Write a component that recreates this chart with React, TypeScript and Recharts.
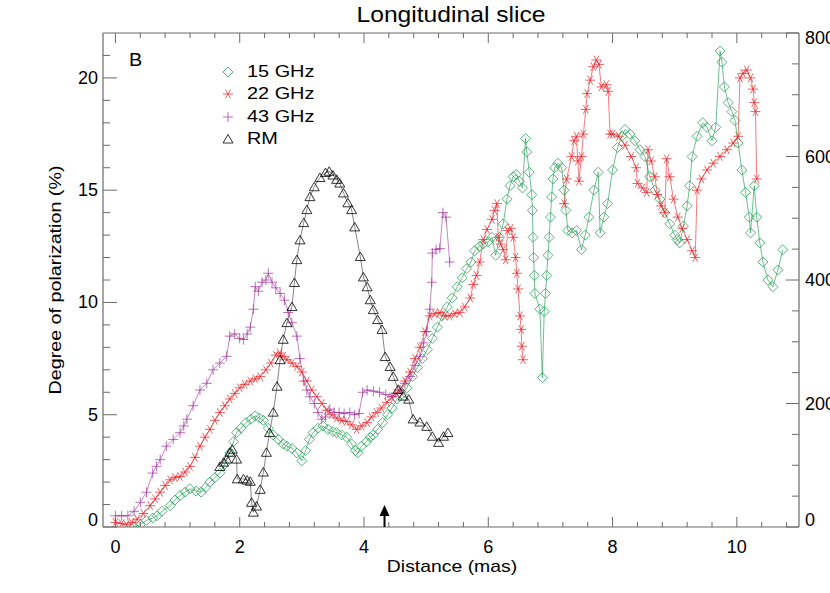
import React from "react";
import { LineChart, Line, XAxis, YAxis, ReferenceDot } from "recharts";

const FONT = '"Liberation Sans", Arial, Helvetica, sans-serif';

const GREEN = "#1f9e52";
const RED = "#ec2127";
const PURPLE = "#a1359f";
const BLACK = "#000000";
const AXIS = "#6a6a6a";

// 15 GHz (degree of polarization, %)
const dist15 = [
  0.3, 0.4, 0.5, 0.6, 0.67, 0.75, 0.88, 0.96, 1.04, 1.12, 1.2, 1.3, 1.38, 1.45, 1.52, 1.6, 1.68, 1.76, 1.84, 1.9,
  1.95, 2.02, 2.1, 2.18, 2.25, 2.32, 2.38, 2.46, 2.54, 2.62, 2.7, 2.76, 2.84, 2.92, 3.0, 3.06, 3.12, 3.18, 3.26, 3.34,
  3.42, 3.5, 3.56, 3.64, 3.72, 3.8, 3.86, 3.9, 3.96, 4.04, 4.1, 4.15, 4.22, 4.3, 4.38, 4.45, 4.53, 4.61, 4.69, 4.78,
  4.86, 4.94, 5.02, 5.1, 5.18, 5.26, 5.34, 5.42, 5.5, 5.58, 5.65, 5.72, 5.78, 5.86, 5.92, 6.0, 6.06, 6.12, 6.18, 6.24,
  6.3, 6.35, 6.4, 6.45, 6.5, 6.55, 6.6, 6.62, 6.66, 6.7, 6.71, 6.72, 6.73, 6.74, 6.75, 6.83, 6.87, 6.9, 6.92, 6.94,
  6.96, 6.98, 7.0, 7.02, 7.04, 7.07, 7.12, 7.18, 7.22, 7.25, 7.28, 7.35, 7.42, 7.5, 7.56, 7.62, 7.7, 7.77, 7.8, 7.86,
  7.92, 8.0, 8.08, 8.15, 8.2, 8.28, 8.36, 8.44, 8.52, 8.6, 8.68, 8.76, 8.84, 8.92, 9.0, 9.04, 9.08, 9.14, 9.2, 9.24,
  9.28, 9.36, 9.45, 9.52, 9.6, 9.66, 9.73, 9.76, 9.8, 9.86, 9.92, 9.97, 10.02, 10.08, 10.14, 10.2, 10.22, 10.28, 10.32, 10.37,
  10.42, 10.5, 10.58, 10.66, 10.74,
];
const pol15 = [
  0.0, 0.1, 0.3, 0.4, 0.5, 0.7, 0.95, 1.2, 1.4, 1.55, 1.7, 1.6, 1.55, 1.75, 2.0, 2.2, 2.4, 2.8, 3.3, 3.8,
  4.2, 4.4, 4.65, 4.8, 4.95, 4.85, 4.75, 4.4, 4.1, 3.9, 3.7, 3.6, 3.5, 3.3, 2.95, 3.4, 3.9, 4.2, 4.4, 4.5,
  4.35, 4.25, 4.2, 4.1, 4.0, 3.7, 3.4, 3.3, 3.6, 3.8, 4.0, 4.1, 4.35, 4.65, 5.0, 5.3, 5.7, 5.9, 6.2, 6.7,
  7.1, 7.5, 7.9, 8.4, 8.9, 9.4, 9.8, 10.2, 10.7, 11.1, 11.5, 11.8, 12.3, 12.5, 12.6, 12.7, 12.9, 12.1, 12.9, 13.5,
  14.6, 15.2, 15.6, 15.7, 15.4, 15.1, 17.3, 16.7, 15.8, 14.8, 14.1, 12.9, 12.0, 11.2, 10.4, 9.7, 6.65, 9.6, 10.4, 11.2,
  12.1, 12.9, 13.8, 14.7, 15.5, 16.0, 16.2, 16.0, 15.0, 14.1, 13.2, 13.1, 13.2, 12.35, 13.0, 13.8, 15.0, 15.8, 13.1, 13.8,
  14.4, 15.9, 16.9, 17.4, 17.7, 17.5, 17.2, 16.8, 16.5, 15.6, 15.0, 14.6, 14.0, 13.5, 13.0, 12.8, 12.65, 13.4, 14.3, 15.2,
  16.5, 17.4, 18.0, 17.8, 17.2, 17.8, 21.2, 20.7, 19.6, 18.9, 18.5, 18.1, 17.1, 15.9, 14.9, 13.8, 13.1, 15.2, 13.8, 12.65,
  11.8, 11.0, 10.7, 11.45, 12.35,
];

// 22 GHz (null marks the gap in the slice)
const dist22 = [
  0.0, 0.1, 0.18, 0.26, 0.35, 0.45, 0.56, 0.64, 0.72, 0.8, 0.88, 0.96, 1.04, 1.12, 1.2, 1.28, 1.36, 1.44, 1.52, 1.6,
  1.68, 1.76, 1.84, 1.92, 2.0, 2.08, 2.17, 2.25, 2.33, 2.42, 2.5, 2.58, 2.64, 2.7, 2.76, 2.84, 2.92, 3.0, 3.08, 3.16,
  3.24, 3.32, 3.4, 3.48, 3.56, 3.64, 3.72, 3.8, 3.88, 3.96, 4.05, 4.12, 4.2, 4.28, 4.37, 4.45, 4.52, 4.58, 4.66, 4.74,
  4.82, 4.9, 4.98, 5.06, 5.14, 5.22, 5.3, 5.38, 5.46, 5.54, 5.62, 5.71, 5.76, 5.81, 5.86, 5.92, 5.98, 6.06, 6.1, 6.14,
  6.16, 6.2, 6.24, 6.28, 6.31, 6.36, 6.4, 6.44, 6.46, 6.48, 6.51, 6.53, 6.54, 6.56, 6.9, 7.22, 7.26, 7.34, 7.38, 7.42,
  7.44, 7.46, 7.5, 7.53, 7.57, 7.59, 7.64, 7.69, 7.74, 7.78, 7.82, 7.9, 7.93, 7.96, 8.0, 8.1, 8.2, 8.3, 8.38, 8.4,
  8.48, 8.55, 8.57, 8.62, 8.68, 8.72, 8.78, 8.84, 8.87, 8.92, 8.98, 9.05, 9.12, 9.2, 9.28, 9.33, 9.36, 9.43, 9.52, 9.62,
  9.73, 9.84, 9.94, 10.02, 10.05, 10.1, 10.16, 10.22, 10.26, 10.28, 10.3, 10.32,
];
const pol22 = [
  0.2, 0.15, 0.1, 0.2, 0.35, 0.6, 0.95, 1.25, 1.55, 1.85, 2.1, 2.2, 2.25, 2.45, 2.7, 3.1, 3.6, 4.0, 4.35, 4.75,
  5.1, 5.4, 5.7, 5.95, 6.2, 6.35, 6.5, 6.6, 6.7, 7.0, 7.3, 7.65, 7.75, 7.6, 7.45, 7.3, 7.15, 6.9, 6.5, 6.1,
  5.8, 5.5, 5.2, 5.0, 4.85, 4.75, 4.7, 4.55, 4.35, 4.5, 4.65, 4.9, 5.1, 5.3, 5.55, 5.8, 5.95, 6.1, 6.5, 6.9,
  7.5, 8.0, 8.7, 9.4, 9.5, 9.55, 9.4, 9.4, 9.5, 9.55, 9.8, 10.2, 10.8, 11.2, 11.8, 12.8, 13.25, 13.7, 14.1, 14.4,
  12.9, 12.6, 12.35, 11.9, 13.2, 13.3, 12.9, 12.0, 11.3, 10.6, 9.4, 8.8, 8.05, 7.45, null, 14.4, 15.5, 16.5, 17.2, 17.4,
  16.3, 15.4, 16.5, 17.5, 18.6, 19.3, 19.9, 20.5, 20.8, 20.6, 19.6, 19.7, 19.4, 17.5, 17.5, 17.4, 17.0, 16.5, 16.0, 15.3,
  15.1, 14.9, 16.8, 16.3, 15.6, 14.8, 14.3, 14.0, 16.4, 15.6, 14.6, 13.8, 13.3, 12.8, 12.3, 12.0, 15.0, 15.5, 15.9, 16.2,
  16.5, 16.8, 17.1, 17.4, 20.0, 20.2, 20.35, 20.0, 19.5, 18.9, 18.5, 15.5,
];

// 43 GHz
const dist43 = [
  0.0, 0.1, 0.2, 0.3, 0.4, 0.5, 0.6, 0.66, 0.72, 0.82, 0.93, 1.04, 1.1, 1.15, 1.25, 1.36, 1.47, 1.57, 1.68, 1.79,
  1.84, 1.92, 2.0, 2.06, 2.12, 2.17, 2.22, 2.25, 2.3, 2.36, 2.42, 2.46, 2.52, 2.58, 2.65, 2.72, 2.78, 2.84, 2.92, 2.97,
  3.03, 3.08, 3.13, 3.2, 3.26, 3.32, 3.38, 3.45, 3.52, 3.6, 3.68, 3.77, 3.85, 3.92, 3.98, 4.05, 4.15, 4.25, 4.35, 4.45,
  4.58, 4.66, 4.74, 4.82, 4.9, 4.96, 5.01, 5.06, 5.09, 5.1, 5.16, 5.22, 5.27, 5.32, 5.38,
];
const pol43 = [
  0.5, 0.5, 0.5, 0.7, 1.1, 1.55, 2.4, 2.7, 3.0, 3.6, 3.9, 4.2, 4.5, 4.8, 5.4, 6.1, 6.4, 7.0, 7.3, 7.6,
  8.5, 8.6, 8.4, 8.35, 8.6, 8.9, 9.7, 10.7, 10.5, 10.9, 11.0, 11.3, 10.9, 10.65, 10.4, 10.1, 9.55, 9.1, 8.5, 7.5,
  6.5, 6.1, 5.8, 5.5, 5.1, 4.8, 4.9, 5.25, 5.1, 5.1, 5.05, 5.1, 5.0, 5.05, 6.0, 6.1, 6.05, 6.0, 5.9, 5.8,
  6.1, 6.4, 6.7, 7.2, 7.6, 8.2, 8.7, 9.7, 10.9, 12.2, 12.35, 12.4, 14.0, 13.8, 11.8,
];

// RM (right axis, rad/m^2)
const distRM = [
  1.68, 1.74, 1.79, 1.84, 1.88, 1.95, 1.96, 2.06, 2.12, 2.17, 2.19, 2.22, 2.27, 2.33, 2.38, 2.43, 2.48, 2.54, 2.6, 2.65,
  2.7, 2.76, 2.84, 2.88, 2.92, 2.97, 3.03, 3.08, 3.13, 3.2, 3.29, 3.38, 3.44, 3.5, 3.56, 3.61, 3.67, 3.74, 3.8, 3.85,
  3.94, 3.99, 4.05, 4.1, 4.15, 4.22, 4.29, 4.34, 4.42, 4.47, 4.55, 4.63, 4.72, 4.79, 4.9, 5.01, 5.1, 5.2, 5.28, 5.35,
];
const valRM = [
  98, 105, 110, 121, 126, 110, 78, 78, 76, 74, 40, 24, 34, 61, 89, 121, 153, 186, 228, 271,
  304, 331, 357, 396, 433, 465, 493, 514, 535, 551, 566, 574, 576, 570, 563, 557, 541, 525, 514, 486,
  438, 405, 389, 368, 352, 336, 320, 276, 260, 244, 223, 212, 207, 175, 170, 163, 147, 137, 147, 153,
];

const xTicks = [
  0, 0.4, 0.8, 1.2, 1.6, 2, 2.4, 2.8, 3.2, 3.6, 4, 4.4, 4.8, 5.2, 5.6, 6, 6.4, 6.8, 7.2, 7.6, 8, 8.4, 8.8, 9.2, 9.6, 10,
  10.4, 10.8,
];
const xMajor = [0, 2, 4, 6, 8, 10];
const leftTicks = [0, 1, 2, 3, 4, 5, 6, 7, 8, 9, 10, 11, 12, 13, 14, 15, 16, 17, 18, 19, 20, 21];
const leftMajor = [0, 5, 10, 15, 20];
const rightTicks = [0, 50, 100, 150, 200, 250, 300, 350, 400, 450, 500, 550, 600, 650, 700, 750, 800];
const rightMajor = [0, 200, 400, 600, 800];

const arrowAt = 4.33;

const legendItems = [
  { label: "15 GHz", kind: "diamond", color: GREEN },
  { label: "22 GHz", kind: "asterisk", color: RED },
  { label: "43 GHz", kind: "plus", color: PURPLE },
  { label: "RM", kind: "triangle", color: BLACK },
];

const zip = (xs: number[], ys: (number | null)[]) => xs.map((x, i) => ({ x, y: ys[i] }));

function symbol(kind: string, cx: number, cy: number, color: string, k?: any) {
  const r = 5;
  if (kind === "diamond") {
    return (
      <path key={k} d={`M${cx},${cy - r}L${cx + r},${cy}L${cx},${cy + r}L${cx - r},${cy}Z`} fill="none" stroke={color} strokeWidth={0.9} strokeOpacity={0.85} />
    );
  }
  if (kind === "asterisk") {
    const dx = r * 0.5;
    const dy = r * 0.866;
    return (
      <path
        key={k}
        d={`M${cx - r},${cy}L${cx + r},${cy}M${cx - dx},${cy - dy}L${cx + dx},${cy + dy}M${cx + dx},${cy - dy}L${cx - dx},${cy + dy}`}
        stroke={color}
        strokeWidth={0.9}
        strokeOpacity={0.8}
      />
    );
  }
  if (kind === "plus") {
    return <path key={k} d={`M${cx - r},${cy}L${cx + r},${cy}M${cx},${cy - r}L${cx},${cy + r}`} stroke={color} strokeWidth={0.9} strokeOpacity={0.8} />;
  }
  return (
    <path key={k} d={`M${cx},${cy - 4.5}L${cx + 5},${cy + 4}L${cx - 5},${cy + 4}Z`} fill="none" stroke={color} strokeWidth={0.8} />
  );
}

function makeDot(kind: string, color: string) {
  return function Dot(props: any): React.ReactElement {
    const { cx, cy, key, payload } = props;
    if (cx == null || cy == null || payload?.y == null || Number.isNaN(cy)) return <g key={key} />;
    return symbol(kind, cx, cy, color, key);
  };
}

function BottomTick(props: any) {
  const { x, y, payload } = props;
  const major = xMajor.includes(payload.value);
  return (
    <g>
      <line x1={x} x2={x} y1={y} y2={y - (major ? 10 : 5)} stroke={AXIS} strokeWidth={1} />
      {major && (
        <text x={x} y={y + 20} textAnchor="middle" dominantBaseline="central" fontSize={18} fontFamily={FONT} fill="#000">
          {payload.value}
        </text>
      )}
    </g>
  );
}

function TopTick(props: any) {
  const { x, y, payload } = props;
  const major = xMajor.includes(payload.value);
  return <line x1={x} x2={x} y1={y} y2={y + (major ? 10 : 5)} stroke={AXIS} strokeWidth={1} />;
}

function LeftTick(props: any) {
  const { x, y, payload } = props;
  const major = leftMajor.includes(payload.value);
  const shift = payload.value === 0 ? -7 : 0;
  return (
    <g>
      <line x1={x} x2={x + (major ? 14 : 7)} y1={y} y2={y} stroke={AXIS} strokeWidth={1} />
      {major && (
        <text x={x - 5} y={y + shift} textAnchor="end" dominantBaseline="central" fontSize={18} fontFamily={FONT} fill="#000">
          {payload.value}
        </text>
      )}
    </g>
  );
}

function RightTick(props: any) {
  const { x, y, payload } = props;
  const major = rightMajor.includes(payload.value);
  const shift = payload.value === 0 ? -7 : payload.value === 800 ? 5 : 0;
  return (
    <g>
      <line x1={x} x2={x - (major ? 13 : 7)} y1={y} y2={y} stroke={AXIS} strokeWidth={1} />
      {major && (
        <text x={x + 6} y={y + shift} textAnchor="start" dominantBaseline="central" fontSize={18} fontFamily={FONT} fill="#000">
          {payload.value}
        </text>
      )}
    </g>
  );
}

function Arrow(props: any) {
  const { cx, cy } = props;
  if (cx == null || cy == null) return <g />;
  return (
    <g>
      <line x1={cx} x2={cx} y1={cy} y2={cy - 12} stroke="#000" strokeWidth={2} />
      <path d={`M${cx},${cy - 22}L${cx + 5},${cy - 11}L${cx - 5},${cy - 11}Z`} fill="#000" />
    </g>
  );
}

const textBase: React.CSSProperties = { position: "absolute", whiteSpace: "nowrap", color: "#000" };

export default function App() {
  const d15 = zip(dist15, pol15);
  const d22 = zip(dist22, pol22);
  const d43 = zip(dist43, pol43);
  const dRM = zip(distRM, valRM);

  return (
    <div style={{ position: "absolute", left: 0, top: 0, width: 830, height: 593, overflow: "hidden", background: "#fff", fontFamily: FONT }}>
      <LineChart width={860} height={593} margin={{ top: 0, right: 0, bottom: 0, left: 0 }}>
        <XAxis
          xAxisId="bottom"
          type="number"
          dataKey="x"
          domain={[-0.2, 11]}
          allowDataOverflow
          ticks={xTicks}
          interval={0}
          height={66}
          tickSize={0}
          tickMargin={0}
          tickLine={false}
          axisLine={{ stroke: AXIS, strokeWidth: 1.2 }}
          tick={<BottomTick />}
        />
        <XAxis
          xAxisId="top"
          orientation="top"
          type="number"
          dataKey="x"
          domain={[-0.2, 11]}
          allowDataOverflow
          ticks={xTicks}
          interval={0}
          height={33}
          tickSize={0}
          tickMargin={0}
          tickLine={false}
          axisLine={{ stroke: AXIS, strokeWidth: 1.2 }}
          tick={<TopTick />}
        />
        <YAxis
          yAxisId="left"
          type="number"
          domain={[0, 22]}
          allowDataOverflow
          ticks={leftTicks}
          interval={0}
          width={103}
          tickSize={0}
          tickMargin={0}
          tickLine={false}
          axisLine={{ stroke: AXIS, strokeWidth: 1.2 }}
          tick={<LeftTick />}
        />
        <YAxis
          yAxisId="right"
          orientation="right"
          type="number"
          domain={[0, 800]}
          allowDataOverflow
          ticks={rightTicks}
          interval={0}
          width={61}
          tickSize={0}
          tickMargin={0}
          tickLine={false}
          axisLine={{ stroke: AXIS, strokeWidth: 1.2 }}
          tick={<RightTick />}
        />

        <Line
          data={d15}
          xAxisId="bottom"
          yAxisId="left"
          dataKey="y"
          type="linear"
          stroke={GREEN}
          strokeOpacity={0.65}
          strokeWidth={1}
          dot={makeDot("diamond", GREEN)}
          activeDot={false}
          isAnimationActive={false}
        />
        <Line
          data={d22}
          xAxisId="bottom"
          yAxisId="left"
          dataKey="y"
          type="linear"
          stroke={RED}
          strokeOpacity={0.6}
          strokeWidth={1}
          connectNulls={false}
          dot={makeDot("asterisk", RED)}
          activeDot={false}
          isAnimationActive={false}
        />
        <Line
          data={d43}
          xAxisId="bottom"
          yAxisId="left"
          dataKey="y"
          type="linear"
          stroke={PURPLE}
          strokeOpacity={0.6}
          strokeWidth={1}
          dot={makeDot("plus", PURPLE)}
          activeDot={false}
          isAnimationActive={false}
        />
        <Line
          data={dRM}
          xAxisId="bottom"
          yAxisId="right"
          dataKey="y"
          type="linear"
          stroke={BLACK}
          strokeOpacity={0.6}
          strokeWidth={0.8}
          dot={makeDot("triangle", BLACK)}
          activeDot={false}
          isAnimationActive={false}
        />

        <ReferenceDot xAxisId="bottom" yAxisId="left" x={arrowAt} y={0} ifOverflow="visible" shape={<Arrow />} />
      </LineChart>

      <div style={{ ...textBase, left: 451, top: 2, transform: "translateX(-50%) scaleX(1.12)", fontSize: 22, lineHeight: "26px" }}>
        Longitudinal slice
      </div>
      <div style={{ ...textBase, left: 452, top: 556, transform: "translateX(-50%) scaleX(1.14)", fontSize: 17, lineHeight: "21px" }}>
        Distance (mas)
      </div>
      <div
        style={{
          ...textBase,
          left: 55,
          top: 280,
          transform: "translate(-50%, -50%) rotate(-90deg) scaleX(1.16)",
          fontSize: 17,
          lineHeight: "21px",
        }}
      >
        Degree of polarization (%)
      </div>
      <div style={{ ...textBase, left: 129, top: 49, fontSize: 18, lineHeight: "22px", transform: "scaleX(1.1)", transformOrigin: "left center" }}>B</div>

      {legendItems.map((it, i) => (
        <div key={it.label} style={{ position: "absolute", left: 220, top: 62 + i * 22.3, height: 20, display: "flex", alignItems: "center" }}>
          <svg width={16} height={20} style={{ display: "block" }}>
            {symbol(it.kind, 8, 10, it.color)}
          </svg>
          <span
            style={{
              marginLeft: 11,
              fontSize: 17,
              lineHeight: "20px",
              color: "#000",
              whiteSpace: "nowrap",
              display: "inline-block",
              transform: "scaleX(1.17)",
              transformOrigin: "left center",
            }}
          >
            {it.label}
          </span>
        </div>
      ))}
    </div>
  );
}
